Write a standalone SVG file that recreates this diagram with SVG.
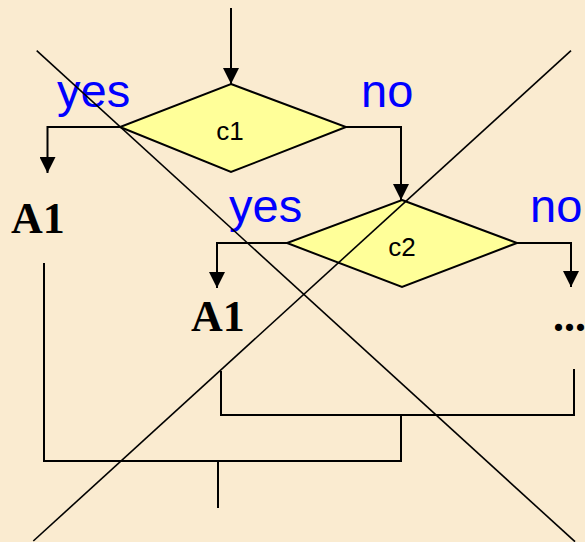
<svg xmlns="http://www.w3.org/2000/svg" width="585" height="542" viewBox="0 0 585 542">
<style>
.bg{fill:#FAEBD0}
.dia{fill:#FFFF99;stroke:#000;stroke-width:2}
.ln{fill:none;stroke:#000;stroke-width:2}
.arr{fill:none;stroke:#000;stroke-width:2;marker-end:url(#ah)}
.cx{fill:none;stroke:#000;stroke-width:1.6}
.ct{font-family:"Liberation Sans",Arial,sans-serif;font-size:26px;fill:#000;text-anchor:middle}
.lbl{font-family:"Liberation Sans",Arial,sans-serif;font-size:47px;fill:#0000FF}
.act{font-family:"Liberation Serif","Times New Roman",serif;font-size:44px;font-weight:bold;fill:#000}
</style>
<defs>
<marker id="ah" markerUnits="userSpaceOnUse" markerWidth="16" markerHeight="16" viewBox="0 0 16 16" refX="16" refY="8" orient="auto">
<path d="M0,0 L16,8 L0,16 z" fill="#000"/>
</marker>
</defs>
<rect class="bg" x="0" y="0" width="585" height="542"/>
<g id="connectors">
<path class="arr" d="M231,8 V84"/>
<path class="arr" d="M120,127 H47.5 V173"/>
<path class="arr" d="M346,127 H401 V200"/>
<path class="arr" d="M287,243 H217 V288"/>
<path class="arr" d="M517,243 H571 V287"/>
<path class="ln" d="M44,263 V461 H401 V415"/>
<path class="ln" d="M221,371 V415 H574 V369"/>
<path class="ln" d="M218,461 V508"/>
</g>
<g id="c1">
<polygon class="dia" points="231,84 346,127 231,172 120,127"/>
<text class="ct" x="230" y="140">c1</text>
</g>
<g id="c2">
<polygon class="dia" points="402,200 517,243 402,287 287,243"/>
<text class="ct" x="402" y="256">c2</text>
</g>
<g id="a1-left">
<text class="act" x="11" y="233">A1</text>
</g>
<g id="a1-right">
<text class="act" x="191" y="331">A1</text>
</g>
<g id="more">
<text class="act" x="553" y="331">...</text>
</g>
<g id="labels">
<text class="lbl" x="57" y="107">yes</text>
<text class="lbl" x="361" y="107">no</text>
<text class="lbl" x="229" y="222">yes</text>
<text class="lbl" x="530" y="222">no</text>
</g>
<g id="cross">
<line class="cx" x1="36.7" y1="50.7" x2="575" y2="541.7"/>
<line class="cx" x1="571" y1="50.7" x2="33.3" y2="541"/>
</g>
</svg>
